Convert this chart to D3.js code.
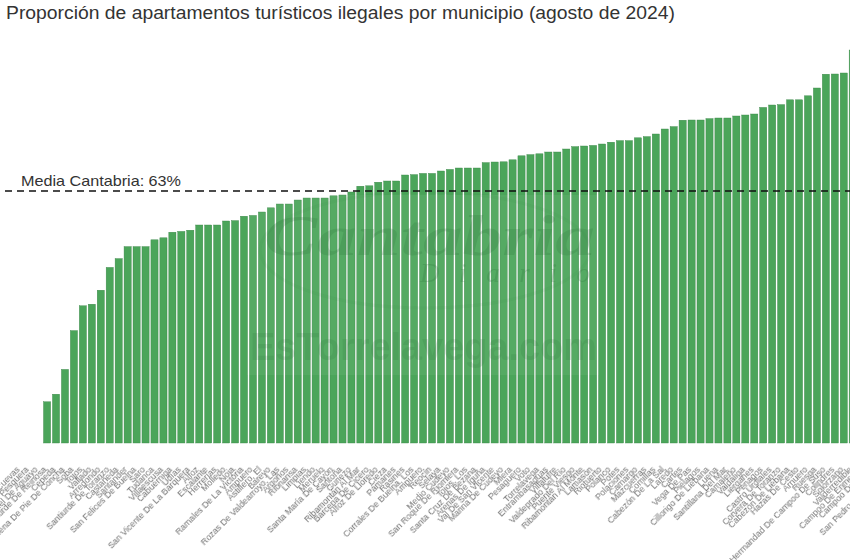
<!DOCTYPE html>
<html>
<head>
<meta charset="utf-8">
<script src="https://cdn.jsdelivr.net/npm/d3@7"></script>
<style>
  html, body { margin: 0; padding: 0; background: #fff; overflow: hidden; }
  text { font-family: "Liberation Sans", Arial, sans-serif; }
  .eje text { font-size: 8.8px; fill: #707070; filter: url(#suave); }
</style>
</head>
<body>
<svg id="grafico" width="850" height="560"></svg>
<script>
// municipios en el orden del grafico (los nombres pequeños se leen con dificultad)
const municipios = [
  "Cuevas", "Pesquera", "San Miguel De Aguayo", "Santiurde De Reinosa", "Cepeda",
  "Bárcena De Pie De Concha", "Soba", "Tojos", "Vallado", "Arredondo",
  "Santiurde De Toranzo", "Castañeda", "Santander", "San Felices De Buelna", "Saro",
  "Tudanca", "Villaescusa", "Cabuérniga", "Udías", "San Vicente De La Barquera",
  "Alfoz", "Escalante", "Herrerías", "Molledo", "Noja",
  "Ramales De La Victoria", "Ampuero", "Astillero, El", "Bareyo", "Rozas De Valdearroyo, Las",
  "Argoños", "Rionansa", "Limpias", "Liendo", "Meruelo",
  "Santa María De Cayón", "Santoña", "Guriezo", "Ribamontán Al Mar", "Bárcena De Cicero",
  "Alfoz De Lloredo", "Cieza", "Pámanes", "Rasines", "Corrales De Buelna, Los",
  "Ampuero", "Reocín", "Selaya", "Medio Cudeyo", "San Roque De Riomiera",
  "Tojos, Los", "Santa Cruz De Bezana", "Arenas De Iguña", "Val De San Vicente", "Marina De Cudeyo",
  "Miera", "Pesaguero", "Voto", "Torrelavega", "Entrambasaguas",
  "Villafufre", "Valdeprado Del Río", "Puente Viesgo", "Ribamontán Al Monte", "Lamasón",
  "Riotuerto", "Polanco", "Potes", "Polaciones", "Camargo",
  "Mazcuerras", "Comillas", "Cabezón De La Sal", "Laredo", "Cartes",
  "Vega De Pas", "Piélagos", "Cillorigo De Liébana", "Luena", "Santillana Del Mar",
  "Camaleño", "Valdáliga", "Liérganes", "Penagos", "Castro Urdiales",
  "Corvera De Toranzo", "Cabezón De Liébana", "Hazas De Cesto", "Arnuero", "Ruesga",
  "Hermandad De Campoo De Suso", "Colindres", "Solórzano", "Valderredible", "Campoo De Enmedio",
  "Campoo De Yuso", "Tresviso", "San Pedro Del Romeral"
];

// % de apartamentos ilegales. Los ultimos municipios quedan fuera del encuadre
const proporcion = [
  0, 0, 0, 0,
  10.3, 12.2, 18.4, 28.1, 34.3, 34.7, 38.2, 43.9, 46.1, 49.1,
  49.1, 49.1, 50.8, 51.3, 52.7, 52.9, 53.2, 54.5, 54.5, 54.5,
  55.5, 55.6, 56.7, 56.9, 57.75, 58.8, 59.75, 59.75, 60.75, 61.25,
  61.25, 61.25, 61.8, 62, 62.75, 64.2, 64.3, 65.2, 65.5, 65.5,
  67, 67.1, 67.4, 67.4, 68, 68.4, 68.75, 68.75, 68.75, 70.1,
  70.25, 70.3, 70.8, 71.8, 72.1, 72.3, 72.75, 72.75, 73.5, 74.1,
  74.25, 74.4, 74.75, 75.2, 75.6, 75.6, 76.3, 76.6, 77.25, 78.5,
  79.1, 80.7, 80.75, 80.75, 81.1, 81.25, 81.25, 81.75, 82, 82.25,
  83.9, 84.5, 84.6, 85.8, 85.8, 86.8, 88.75, 92.2, 92.25, 92.5, 98.25
];

const mediaCantabria = 63;
const titulo = "Proporción de apartamentos turísticos ilegales por municipio (agosto de 2024)";

const svg = d3.select("#grafico");

svg.append("defs").append("filter").attr("id", "suave")
  .append("feGaussianBlur").attr("stdDeviation", 0.35);

const x = d3.scaleBand()
  .domain(municipios.map((d, i) => i))
  .range([5.9, 5.9 + 8.97 * municipios.length])
  .padding(0.2);

const y = d3.scaleLinear().domain([0, 100]).range([443, 43]);

svg.selectAll(".barra")
  .data(proporcion.map((v, i) => ({ i: i, v: v })).filter(d => d.v > 0))
  .join("rect")
  .attr("class", "barra")
  .attr("x", d => x(d.i))
  .attr("y", d => y(d.v))
  .attr("width", x.bandwidth())
  .attr("height", d => y(0) - y(d.v))
  .attr("fill", "#4ba55a")
  .attr("stroke", "#3a8548")
  .attr("stroke-width", 0.4);

// marca de agua
const agua = svg.append("g");
agua.append("rect")
  .attr("x", 247).attr("y", 195).attr("width", 352).attr("height", 180)
  .attr("fill", "#fff").attr("opacity", 0.06);
agua.append("ellipse")
  .attr("cx", 425).attr("cy", 250).attr("rx", 165).attr("ry", 58)
  .attr("fill", "none").attr("stroke", "#2f7d3f").attr("stroke-width", 3).attr("opacity", 0.07);
agua.append("text")
  .attr("x", 264).attr("y", 255)
  .attr("textLength", 331).attr("lengthAdjust", "spacingAndGlyphs")
  .style("font-family", "'Liberation Serif', serif")
  .style("font-style", "italic").style("font-weight", "bold")
  .style("font-size", "58px")
  .attr("fill", "#2a7038").attr("opacity", 0.2)
  .text("Cantabria");
agua.append("text")
  .attr("x", 420).attr("y", 282)
  .attr("textLength", 170).attr("lengthAdjust", "spacing")
  .style("font-family", "'Liberation Serif', serif")
  .style("font-style", "italic")
  .style("font-size", "27px")
  .attr("fill", "#2a7038").attr("opacity", 0.22)
  .text("Diario");
agua.append("text")
  .attr("x", 250).attr("y", 360)
  .attr("textLength", 347).attr("lengthAdjust", "spacingAndGlyphs")
  .style("font-weight", "bold")
  .style("font-size", "39px")
  .attr("fill", "#2a7038").attr("opacity", 0.15)
  .text("EsTorrelavega.com");

// linea de la media
svg.append("line")
  .attr("x1", 5).attr("x2", 850)
  .attr("y1", y(mediaCantabria)).attr("y2", y(mediaCantabria))
  .attr("stroke", "#111")
  .attr("stroke-width", 1.3)
  .attr("stroke-dasharray", "7 5");

svg.append("text")
  .attr("x", 21).attr("y", 186)
  .attr("textLength", 160).attr("lengthAdjust", "spacingAndGlyphs")
  .style("font-size", "14.5px")
  .attr("fill", "#333")
  .text("Media Cantabria: " + mediaCantabria + "%");

svg.append("text")
  .attr("x", 6).attr("y", 19)
  .attr("textLength", 669).attr("lengthAdjust", "spacingAndGlyphs")
  .style("font-size", "17.5px")
  .attr("fill", "#333")
  .text(titulo);

// etiquetas giradas
const ejeX = svg.append("g")
  .attr("class", "eje")
  .attr("transform", "translate(0,468)")
  .call(d3.axisBottom(x).tickSize(0).tickPadding(0).tickFormat(i => municipios[i]));

ejeX.select(".domain").remove();

ejeX.selectAll("text")
  .attr("text-anchor", "end")
  .attr("dy", "0.35em")
  .attr("transform", "translate(7,0) rotate(-45)");
</script>
</body>
</html>
